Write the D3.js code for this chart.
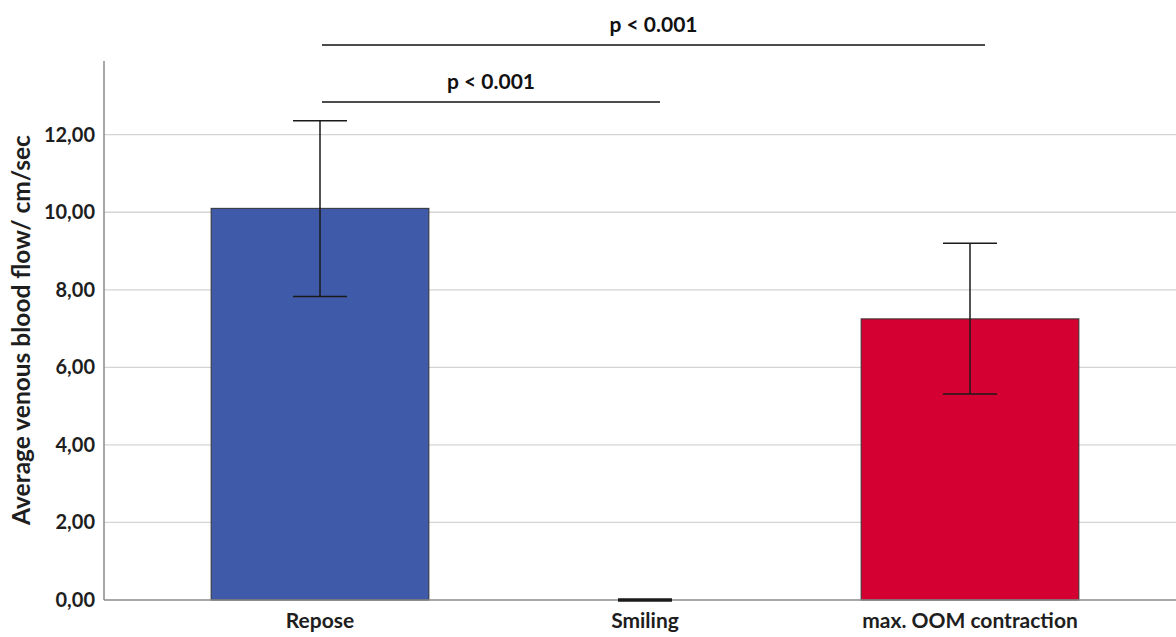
<!DOCTYPE html>
<html>
  <head>
    <script src="https://d3js.org/d3.v7.min.js"></script>
    <style>
      body, html { margin: 0; background: #fff; font-family: "Lato", sans-serif; overflow: hidden; }
    </style>
  </head>
  <body>
    <svg id="chart" width="1176" height="637"></svg>
    <script>
      // data
      var categories = ["Repose", "Smiling", "max. OOM contraction"];
      var means = [10.1, 0, 7.25];
      var lower = [7.83, 0, 5.31];
      var upper = [12.36, 0, 9.2];
      var colors = ["#3f5aa8", "#3f5aa8", "#d50032"];
      var yTicks = [0, 2, 4, 6, 8, 10, 12];
      var sigPairs = [
        { from: "Repose", to: "Smiling", label: "p < 0.001", level: 0 },
        { from: "Repose", to: "max. OOM contraction", label: "p < 0.001", level: 1 },
      ];

      var svg = d3.select("#chart");
      var x0 = 104, x1 = 1176, yBase = 600;

      var y = d3.scaleLinear().domain([0, 13.9]).range([yBase, 61]);
      var x = d3.scaleBand().domain(categories).range([157.5, 1132.5])
        .paddingInner(0.33).paddingOuter(0.165);
      var fmt = function (d) { return d3.format(".2f")(d).replace(".", ","); };

      // gridlines
      svg.append("g")
        .selectAll("line")
        .data(yTicks.filter((d) => d > 0))
        .join("line")
        .attr("x1", x0).attr("x2", x1)
        .attr("y1", (d) => y(d)).attr("y2", (d) => y(d))
        .attr("stroke", "#d4d4d4").attr("stroke-width", 1.3);

      // bars
      svg.append("g")
        .selectAll("rect")
        .data(categories)
        .join("rect")
        .attr("x", (d) => x(d))
        .attr("width", x.bandwidth())
        .attr("y", (d, i) => y(means[i]))
        .attr("height", (d, i) => yBase - y(means[i]))
        .attr("fill", (d, i) => colors[i])
        .attr("stroke", "#333")
        .attr("stroke-width", (d, i) => (means[i] > 0 ? 1 : 0));

      // axes
      svg.append("line").attr("x1", x0).attr("x2", x1).attr("y1", yBase).attr("y2", yBase)
        .attr("stroke", "#8a8a8a").attr("stroke-width", 1.5);
      svg.append("line").attr("x1", x0).attr("x2", x0).attr("y1", y.range()[1]).attr("y2", yBase)
        .attr("stroke", "#8a8a8a").attr("stroke-width", 1.5);

      // error bars
      var capW = 54;
      var eb = svg.append("g").attr("stroke", "#1a1a1a");
      categories.forEach(function (c, i) {
        var cx = x(c) + x.bandwidth() / 2;
        var sw = upper[i] - lower[i] > 0 ? 1.5 : 3;
        eb.append("line").attr("x1", cx).attr("x2", cx)
          .attr("y1", y(lower[i])).attr("y2", y(upper[i])).attr("stroke-width", 1.5);
        [lower[i], upper[i]].forEach(function (v) {
          eb.append("line").attr("x1", cx - capW / 2).attr("x2", cx + capW / 2)
            .attr("y1", y(v)).attr("y2", y(v)).attr("stroke-width", sw);
        });
      });

      // y tick labels
      svg.append("g")
        .selectAll("text")
        .data(yTicks)
        .join("text")
        .attr("x", 95)
        .attr("y", (d) => y(d))
        .attr("dy", "0.35em")
        .attr("text-anchor", "end")
        .attr("font-size", 20).attr("font-weight", "bold").attr("fill", "#1e1e1e")
        .text(fmt);

      // x labels
      svg.append("g")
        .selectAll("text")
        .data(categories)
        .join("text")
        .attr("x", (d) => x(d) + x.bandwidth() / 2)
        .attr("y", 628)
        .attr("text-anchor", "middle")
        .attr("font-size", 21).attr("font-weight", "bold").attr("fill", "#1e1e1e")
        .text((d) => d);

      // y axis title
      svg.append("text")
        .attr("transform", "translate(30,330) rotate(-90)")
        .attr("text-anchor", "middle")
        .attr("font-size", 24.5).attr("font-weight", "bold").attr("fill", "#1e1e1e")
        .text("Average venous blood flow/ cm/sec");

      // significance brackets
      var sig = svg.append("g");
      sigPairs.forEach(function (p) {
        var xa = x(p.from) + x.bandwidth() / 2 + 2;
        var xb = x(p.to) + x.bandwidth() / 2 + 15;
        var ly = p.level === 0 ? 102 : 45;
        sig.append("line").attr("x1", xa).attr("x2", xb).attr("y1", ly).attr("y2", ly)
          .attr("stroke", "#111").attr("stroke-width", 1.5);
        sig.append("text").attr("x", (xa + xb) / 2).attr("y", ly - 13)
          .attr("text-anchor", "middle")
          .attr("font-size", 21).attr("font-weight", "bold").attr("fill", "#111")
          .text(p.label);
      });
    </script>
  </body>
</html>
